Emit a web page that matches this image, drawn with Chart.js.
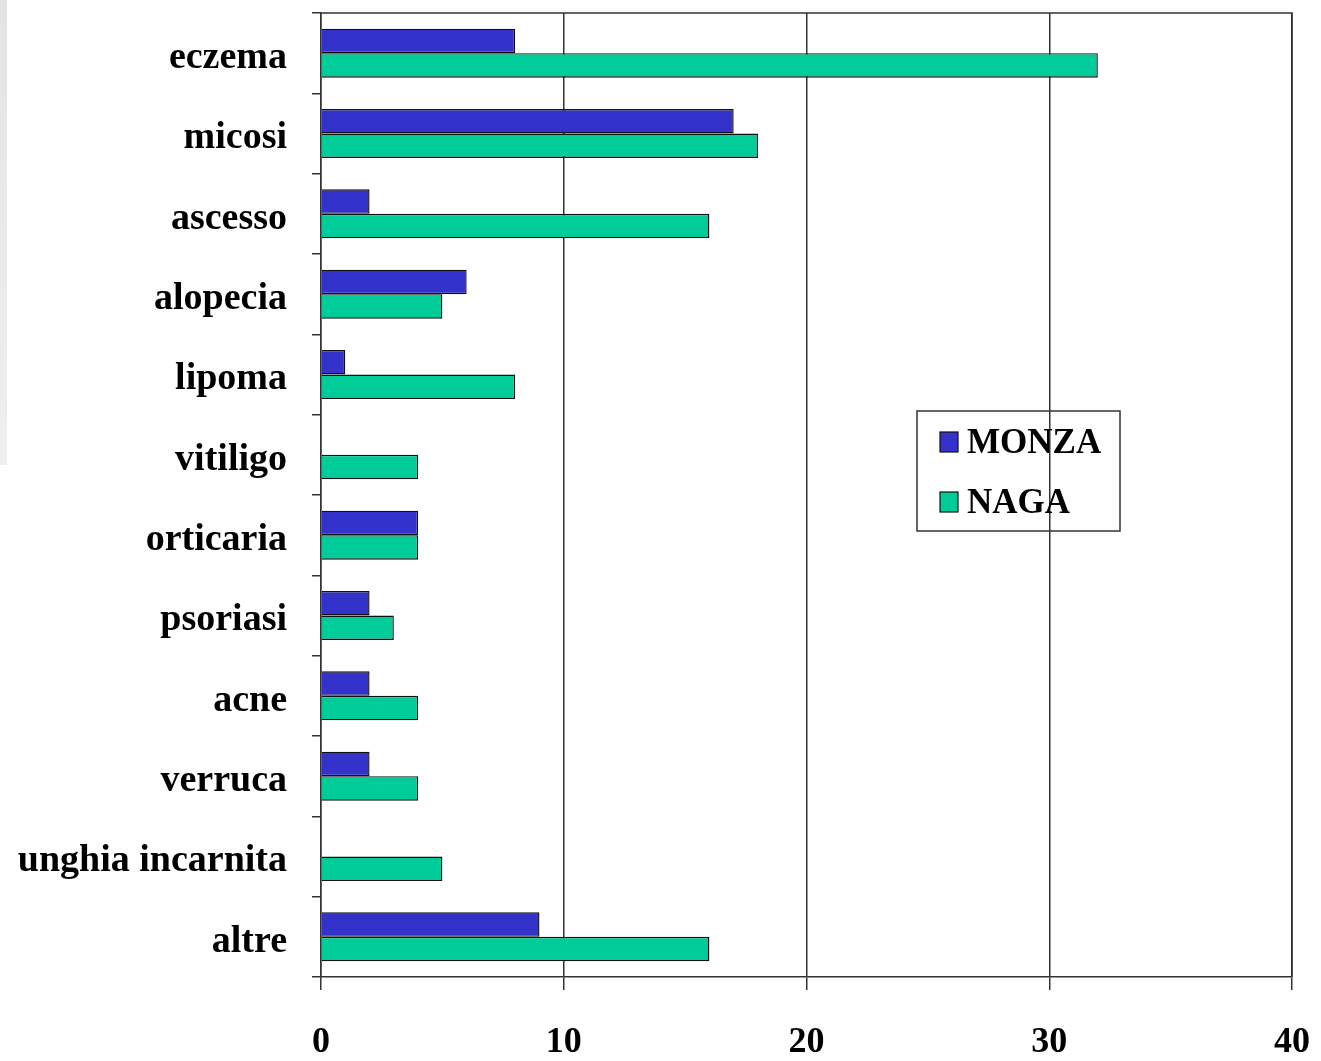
<!DOCTYPE html>
<html>
<head>
<meta charset="utf-8">
<script src="https://cdn.jsdelivr.net/npm/chart.js@4/dist/chart.umd.min.js"></script>
<style>
  html, body { margin: 0; padding: 0; background: #fff; }
  #wrap { position: relative; width: 1321px; height: 1061px; }
  #striscia { position: absolute; left: 0; top: 0; width: 7px; height: 465px;
    background: linear-gradient(to bottom, #e4e4e4, #efefef); }
</style>
</head>
<body>
<div id="wrap">
  <div id="striscia"></div>
  <canvas id="grafico" width="1321" height="1061"></canvas>
</div>
<script>
// Categorie (dall'alto verso il basso)
const categorie = ['eczema', 'micosi', 'ascesso', 'alopecia', 'lipoma', 'vitiligo',
  'orticaria', 'psoriasi', 'acne', 'verruca', 'unghia incarnita', 'altre'];

// Valori delle due serie
const monza = [8, 17, 2, 6, 1, 0, 4, 2, 2, 2, 0, 9];
const naga = [32, 18, 16, 5, 8, 4, 4, 3, 4, 4, 5, 16];

// Etichette delle serie e scala
const serie = ['MONZA', 'NAGA'];
const asseMin = 0;
const asseMax = 40;
const passo = 10;

const FONT = '"Liberation Serif", "Times New Roman", serif';
const GRIGIO = '#333333';

// Cornice dell'area del grafico + legenda dentro l'area
const cornice = {
  id: 'cornice',
  beforeDatasetsDraw(chart) {
    const { ctx, chartArea: a } = chart;
    ctx.save();
    ctx.strokeStyle = GRIGIO;
    ctx.lineWidth = 1.5;
    ctx.beginPath();
    ctx.moveTo(a.left, a.top);
    ctx.lineTo(a.right, a.top);
    ctx.lineTo(a.right, a.bottom);
    ctx.stroke();
    ctx.restore();
  },
  afterDraw(chart) {
    const { ctx } = chart;
    ctx.save();
    // riquadro legenda
    ctx.strokeStyle = GRIGIO;
    ctx.lineWidth = 1.5;
    ctx.strokeRect(917, 411, 203, 120);
    ctx.font = 'bold 35px ' + FONT;
    ctx.textBaseline = 'middle';
    chart.data.datasets.forEach((ds, i) => {
      const y = 442 + i * 60;
      ctx.fillStyle = ds.backgroundColor;
      ctx.fillRect(940, y - 10, 18, 20);
      ctx.strokeStyle = '#111';
      ctx.lineWidth = 1.2;
      ctx.strokeRect(940, y - 10, 18, 20);
      ctx.fillStyle = '#000';
      ctx.fillText(ds.label, 967, y + 2);
    });
    ctx.restore();
  }
};

// niente padding automatico delle etichette: area fissa
function azzeraPadding(s) {
  s.paddingTop = 0; s.paddingBottom = 0; s.paddingLeft = 0; s.paddingRight = 0;
}

const ctx = document.getElementById('grafico').getContext('2d');
new Chart(ctx, {
  type: 'bar',
  data: {
    labels: categorie,
    datasets: [
      { label: serie[0], data: monza, backgroundColor: '#3333CC', borderColor: '#111', borderWidth: 1.4 },
      { label: serie[1], data: naga, backgroundColor: '#00CC99', borderColor: '#111', borderWidth: 1.4 }
    ]
  },
  options: {
    indexAxis: 'y',
    responsive: false,
    animation: false,
    layout: { autoPadding: false, padding: { top: 13, right: 29, left: 0, bottom: 0 } },
    datasets: { bar: { categoryPercentage: 0.61, barPercentage: 1.0 } },
    plugins: { legend: { display: false }, tooltip: { enabled: false } },
    scales: {
      x: {
        min: asseMin,
        max: asseMax,
        ticks: { stepSize: passo, color: '#000', padding: 31, font: { family: FONT, size: 36, weight: 'bold' } },
        grid: { color: GRIGIO, lineWidth: 1.5, tickLength: 13 },
        border: { color: GRIGIO, width: 1.5 },
        afterFit(s) { s.height = 84; azzeraPadding(s); }
      },
      y: {
        ticks: { color: '#000', padding: 25, labelOffset: 5, font: { family: FONT, size: 38, weight: 'bold' } },
        grid: { offset: true, drawOnChartArea: false, color: GRIGIO, lineWidth: 1.5, tickLength: 9 },
        border: { color: GRIGIO, width: 1.5 },
        afterFit(s) { s.width = 321; azzeraPadding(s); }
      }
    }
  },
  plugins: [cornice]
});
</script>
</body>
</html>
